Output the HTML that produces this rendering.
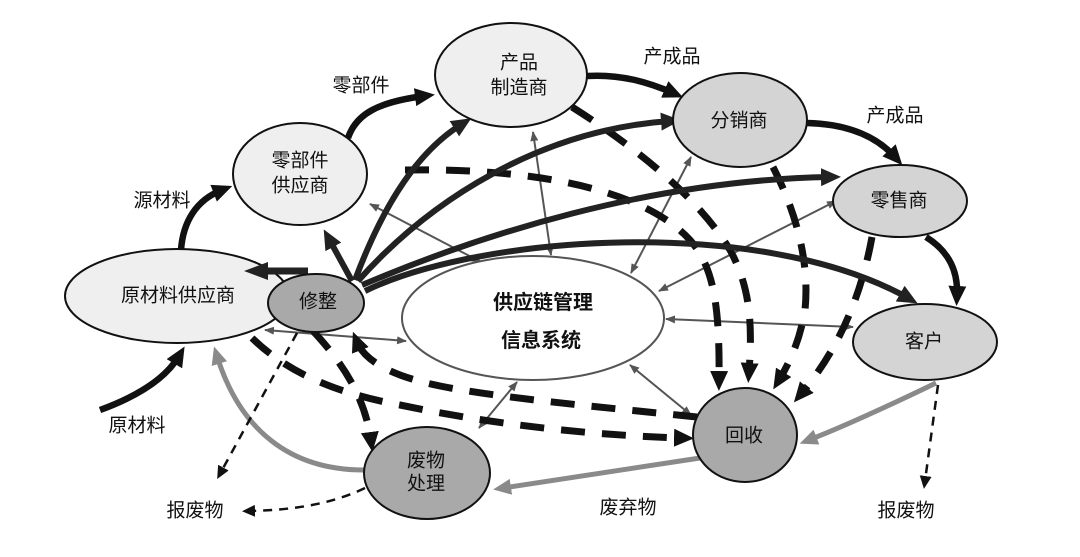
<!DOCTYPE html>
<html><head><meta charset="utf-8">
<style>
html,body{margin:0;padding:0;background:#fff;}
svg{display:block;}
text{font-family:"Liberation Sans","Noto Sans CJK SC",sans-serif;font-size:19px;fill:#111;text-anchor:middle;dominant-baseline:central;}
</style></head>
<body>
<svg width="1080" height="557" viewBox="0 0 1080 557" xmlns="http://www.w3.org/2000/svg">
<defs>
<marker id="mb" viewBox="0 0 20 18" refX="9" refY="9" markerWidth="20" markerHeight="18" markerUnits="userSpaceOnUse" orient="auto"><path d="M0,0 L20,9 L0,18 z" fill="#111"/></marker>
<marker id="md" viewBox="0 0 20 18" refX="9" refY="9" markerWidth="20" markerHeight="18" markerUnits="userSpaceOnUse" orient="auto"><path d="M0,0 L20,9 L0,18 z" fill="#222"/></marker>
<marker id="md2" viewBox="0 0 24 18" refX="6" refY="9" markerWidth="24" markerHeight="18" markerUnits="userSpaceOnUse" orient="auto"><path d="M0,0 L24,9 L0,18 z" fill="#222"/></marker>
<marker id="mg" viewBox="0 0 18 16" refX="8" refY="8" markerWidth="18" markerHeight="16" markerUnits="userSpaceOnUse" orient="auto"><path d="M0,0 L18,8 L0,16 z" fill="#8a8a8a"/></marker>
<marker id="ms" viewBox="0 0 13 12" refX="5" refY="6" markerWidth="13" markerHeight="12" markerUnits="userSpaceOnUse" orient="auto"><path d="M0,0 L13,6 L0,12 z" fill="#111"/></marker>
<marker id="mt" viewBox="0 0 10 8" refX="9" refY="4" markerWidth="10" markerHeight="8" markerUnits="userSpaceOnUse" orient="auto-start-reverse"><path d="M0,0 L10,4 L0,8 z" fill="#555"/></marker>
</defs>

<!-- thin gray double arrows -->
<g stroke="#555" stroke-width="2" fill="none" marker-start="url(#mt)" marker-end="url(#mt)">
<path d="M370,204 L481,262"/>
<path d="M533,132 L551,255"/>
<path d="M691,157 L631,273"/>
<path d="M836,201 L659,291"/>
<path d="M666,319 L853,327"/>
<path d="M630,365 L691,415"/>
<path d="M517,382 L479,428"/>
<path d="M265,330 L406,341"/>
</g>

<!-- thick dashed black -->
<g stroke="#111" stroke-width="7" fill="none" stroke-dasharray="24 17" marker-end="url(#mb)">
<path d="M405,170 C520,168 640,185 690,240 C712,265 720,300 719,380"/>
<path d="M572,107 C640,150 700,200 730,250 C752,290 752,330 749,372"/>
<path d="M773,167 C795,210 810,260 805,310 C800,340 790,362 779,380"/>
<path d="M872,237 Q855,330 801,394"/>
<path d="M697,417 C600,407 500,398 440,386 C395,377 365,362 357,342"/>
<path d="M252,338 C285,370 330,392 400,405 C480,422 580,435 683,438"/>
<path d="M313,331 C340,360 365,395 371,441"/>
</g>

<!-- gray thick -->
<g stroke="#8a8a8a" stroke-width="5" fill="none" marker-end="url(#mg)">
<path d="M364,470 C290,470 240,430 217,356"/>
<path d="M700,458 L503,488"/>
<path d="M936,383 C880,410 840,428 809,440"/>
</g>

<!-- thin dashed -->
<g stroke="#111" stroke-width="2.5" fill="none" stroke-dasharray="9 7" marker-end="url(#ms)">
<path d="M297,333 L221,472"/>
<path d="M365,488 C330,505 290,510 250,511"/>
<path d="M938,385 L925,481"/>
</g>

<!-- black flow arrows -->
<g stroke="#111" stroke-width="6.5" fill="none" marker-end="url(#mb)">
<path d="M100,410 Q160,388 179,356"/>
<path d="M181,250 C183,222 196,200 222,190"/>
<path d="M348,138 C356,114 378,102 424,96"/>
<path d="M587,76 C620,74 648,82 673,93"/>
<path d="M807,123 C850,124 878,138 895,157"/>
<path d="M926,237 C950,252 958,272 957,295"/>
</g>

<!-- fan from 修整 -->
<g stroke="#222" stroke-width="6" fill="none" marker-end="url(#md)">
<path d="M352,281 L329,239"/>
<path d="M355,280 C385,200 420,150 462,124"/>
<path d="M358,281 C430,200 540,130 670,121"/>
<path d="M362,285 C480,235 650,180 830,177"/>
<path d="M365,291 C480,235 760,215 908,298"/>
</g>

<!-- nodes -->
<g stroke="#111" stroke-width="2">
<ellipse cx="511" cy="75" rx="76" ry="52" fill="#efefef"/>
<ellipse cx="740" cy="120" rx="67" ry="47" fill="#d4d4d4"/>
<ellipse cx="900" cy="201" rx="67" ry="36" fill="#d4d4d4"/>
<ellipse cx="300" cy="174" rx="67" ry="51" fill="#efefef"/>
<ellipse cx="177" cy="296" rx="112" ry="47" fill="#efefef"/>
</g>
<!-- 修整 -> 原材料供应商 arrow drawn over supplier ellipse -->
<path d="M308,271 L262,271" stroke="#222" stroke-width="7" fill="none" marker-end="url(#md2)"/>
<g stroke="#111" stroke-width="2">
<ellipse cx="316" cy="303" rx="48" ry="29" fill="#a9a9a9"/>
<ellipse cx="925" cy="342" rx="72" ry="38" fill="#d4d4d4"/>
<ellipse cx="745" cy="435" rx="52" ry="47" fill="#a9a9a9"/>
<ellipse cx="427" cy="473" rx="63" ry="46" fill="#a9a9a9"/>
</g>
<ellipse cx="533" cy="318" rx="131" ry="62" fill="#fff" stroke="#555" stroke-width="2"/>

<!-- node text -->
<text x="519" y="63">产品</text>
<text x="519" y="88">制造商</text>
<text x="739" y="121">分销商</text>
<text x="899" y="201">零售商</text>
<text x="300" y="161">零部件</text>
<text x="300" y="186">供应商</text>
<text x="178" y="296">原材料供应商</text>
<text x="318" y="302">修整</text>
<text x="924" y="342">客户</text>
<text x="744" y="436">回收</text>
<text x="426" y="461">废物</text>
<text x="426" y="484">处理</text>
<text x="543" y="303" style="font-weight:bold;font-size:20px">供应链管理</text>
<text x="541" y="341" style="font-weight:bold;font-size:20px">信息系统</text>

<!-- edge labels -->
<text x="361" y="86">零部件</text>
<text x="162" y="201">源材料</text>
<text x="672" y="57">产成品</text>
<text x="895" y="116">产成品</text>
<text x="137" y="426">原材料</text>
<text x="195" y="511">报废物</text>
<text x="628" y="508">废弃物</text>
<text x="906" y="511">报废物</text>
</svg>
</body></html>
